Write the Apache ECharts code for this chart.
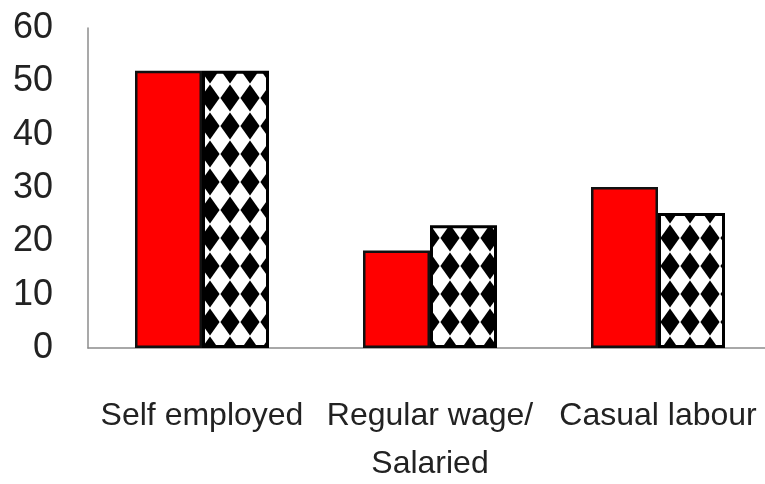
<!DOCTYPE html>
<html>
<head>
<meta charset="utf-8">
<script src="https://cdn.jsdelivr.net/npm/echarts@6/dist/echarts.min.js"></script>
<style>
html,body{margin:0;padding:0;background:#fff;}
#chart{width:765px;height:484px;}
</style>
</head>
<body>
<div id="chart"></div>
<script>
const categories = ['Self employed', 'Regular wage/\nSalaried', 'Casual labour'];
const seriesSolid = [52, 18.3, 30.2];
const seriesPattern = [52, 23, 25.3];
const yTicks = [0, 10, 20, 30, 40, 50, 60];

function makePattern() {
  const c = document.createElement('canvas');
  c.width = 20; c.height = 28;
  const g = c.getContext('2d');
  g.fillStyle = '#ffffff';
  g.fillRect(0, 0, 20, 28);
  g.fillStyle = '#000000';
  g.beginPath();
  g.moveTo(10, 0.5);
  g.lineTo(19.6, 14);
  g.lineTo(10, 27.5);
  g.lineTo(0.4, 14);
  g.closePath();
  g.fill();
  return c;
}

const FONT = '"Liberation Sans Narrow", "Arial Narrow", "Liberation Sans", Arial, sans-serif';
const chart = echarts.init(document.getElementById('chart'), null, {renderer: 'canvas'});
chart.setOption({
  animation: false,
  backgroundColor: '#ffffff',
  grid: {left: 88, top: 28, width: 684, height: 320, containLabel: false, outerBoundsMode: 'none'},
  xAxis: {
    type: 'category',
    data: categories,
    axisLine: {show: true, lineStyle: {color: '#8c8c8c', width: 1.5}},
    axisTick: {show: false},
    axisLabel: {
      interval: 0, margin: 44, color: '#222222', fontSize: 32,
      fontFamily: FONT, lineHeight: 48, hideOverlap: false
    }
  },
  yAxis: {
    type: 'value',
    min: yTicks[0], max: yTicks[yTicks.length - 1], interval: 10,
    axisLine: {show: true, lineStyle: {color: '#8c8c8c', width: 1.5}},
    axisTick: {show: false},
    splitLine: {show: false},
    axisLabel: {margin: 35, color: '#222222', fontSize: 36, fontFamily: FONT}
  },
  series: [
    {
      type: 'bar', data: seriesSolid, barWidth: 67, barGap: '0%',
      itemStyle: {color: '#ff0000', borderColor: '#111', borderWidth: 2.5}
    },
    {
      type: 'bar', data: seriesPattern, barWidth: 67, barGap: '0%',
      itemStyle: {color: {image: makePattern(), repeat: 'repeat'}, borderColor: '#000', borderWidth: 3}
    }
  ]
});
</script>
</body>
</html>
